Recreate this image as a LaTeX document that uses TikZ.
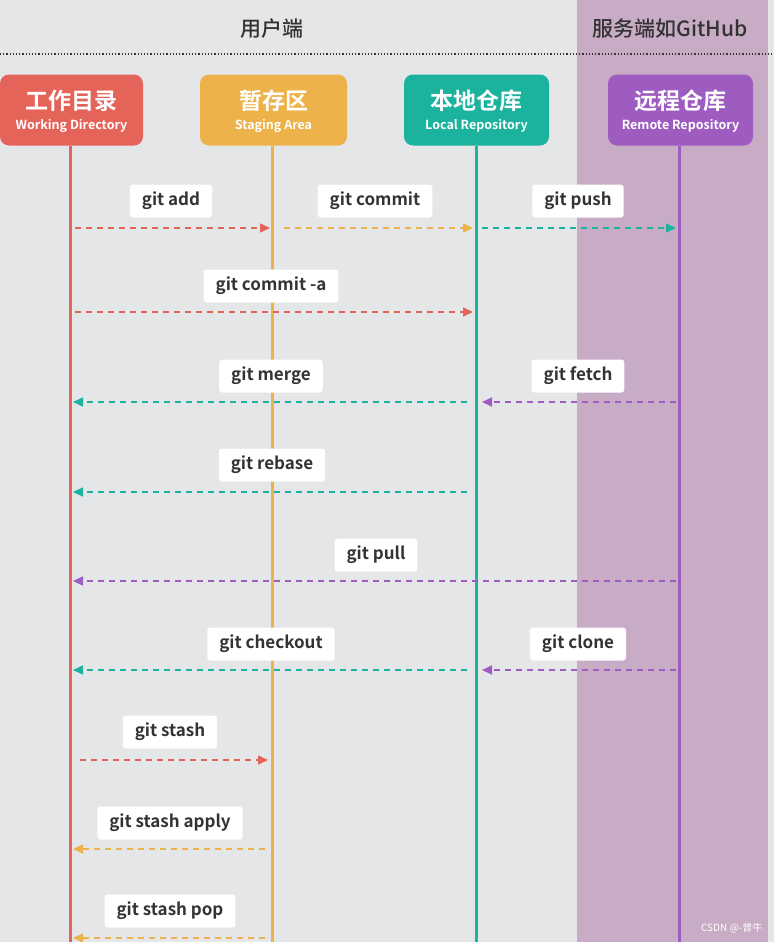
\documentclass[tikz,border=0pt]{standalone}
\usepackage{fontspec}
\setmainfont{Noto Sans CJK SC}[BoldFont={* Bold}]
\newfontfamily\medfont{Noto Sans CJK SC Medium}
\usetikzlibrary{arrows.meta}
\definecolor{bgc}{HTML}{E4E6E8}
\definecolor{panel}{HTML}{C8ABC5}
\definecolor{cred}{HTML}{E5645A}
\definecolor{corg}{HTML}{EDB24A}
\definecolor{cteal}{HTML}{1BB39E}
\definecolor{cpur}{HTML}{9E5CC0}
\definecolor{ctext}{HTML}{333333}
\tikzset{
  hdr/.style={rounded corners=9pt, minimum width=145pt, minimum height=71pt, inner sep=0pt},
  htitle/.style={text=white, font=\fontsize{23}{26}\selectfont\bfseries, inner sep=0pt},
  hsub/.style={text=white, font=\fontsize{12.5}{14}\selectfont\bfseries, inner sep=0pt},
  life/.style={line width=3pt},
  cmd/.style={fill=white, rounded corners=3pt, text=ctext, font=\fontsize{17}{20}\selectfont\bfseries, inner xsep=12pt, minimum height=33pt},
  flow/.style={line width=1.6pt, dash pattern=on 6pt off 5pt, -{Triangle[length=10pt,width=9pt]}},
}
\begin{document}
\begin{tikzpicture}[x=1pt,y=-1pt]
\useasboundingbox (0,0) rectangle (774,942);
\fill[bgc] (0,0) rectangle (774,942);
\fill[panel] (577,0) rectangle (768,942);
\draw[ctext, line width=1.2pt, dotted] (0,54) -- (774,54);
\node[font=\medfont\fontsize{21}{24}\selectfont, text=ctext] (t1) at (272,29) {用户端};
\node[font=\medfont\fontsize{21}{24}\selectfont, text=ctext] (t2) at (670,29) {服务端如GitHub};

\node[hdr, fill=cred, minimum width=143pt] (wd) at (71.5,110) {};
\node[hdr, fill=corg, minimum width=147pt] (sa) at (273.5,110) {};
\node[hdr, fill=cteal] (lr) at (476.5,110) {};
\node[hdr, fill=cpur] (rr) at (680.5,110) {};
\node[htitle] (wdT) at ([yshift=9pt]wd.center) {工作目录};
\node[hsub] (wdS) at ([yshift=-16pt]wd.center) {Working Directory};
\node[htitle] (saT) at ([yshift=9pt]sa.center) {暂存区};
\node[hsub] (saS) at ([yshift=-16pt]sa.center) {Staging Area};
\node[htitle] (lrT) at ([yshift=9pt]lr.center) {本地仓库};
\node[hsub] (lrS) at ([yshift=-16pt]lr.center) {Local Repository};
\node[htitle] (rrT) at ([yshift=9pt]rr.center) {远程仓库};
\node[hsub] (rrS) at ([yshift=-16pt]rr.center) {Remote Repository};

\coordinate (wdE) at (70,942);
\coordinate (saE) at (272,942);
\coordinate (lrE) at (476,942);
\coordinate (rrE) at (679,942);
\draw[life, cred] (wd.south -| wdE) -- (wdE);
\draw[life, corg] (sa.south -| saE) -- (saE);
\draw[life, cteal] (lr.south -| lrE) -- (lrE);
\draw[life, cpur] (rr.south -| rrE) -- (rrE);

% arrow end points
\coordinate (a1s) at (75,228);  \coordinate (a1e) at (270,228);
\coordinate (a2s) at (284,228); \coordinate (a2e) at (473,228);
\coordinate (a3s) at (482,228); \coordinate (a3e) at (676,228);
\coordinate (a4s) at (75,312);  \coordinate (a4e) at (473,312);
\coordinate (a5s) at (467,402); \coordinate (a5e) at (73,402);
\coordinate (a6s) at (676,402); \coordinate (a6e) at (482,402);
\coordinate (a7s) at (467,492); \coordinate (a7e) at (73,492);
\coordinate (a8s) at (676,581); \coordinate (a8e) at (73,581);
\coordinate (a9s) at (467,670); \coordinate (a9e) at (73,670);
\coordinate (a10s) at (676,670); \coordinate (a10e) at (482,670);
\coordinate (a11s) at (80,760); \coordinate (a11e) at (268,760);
\coordinate (a12s) at (265,849); \coordinate (a12e) at (73,849);
\coordinate (a13s) at (265,938); \coordinate (a13e) at (73,938);

\draw[flow, cred] (a1s) -- (a1e);
\draw[flow, corg] (a2s) -- (a2e);
\draw[flow, cteal] (a3s) -- (a3e);
\draw[flow, cred] (a4s) -- (a4e);
\draw[flow, cteal] (a5s) -- (a5e);
\draw[flow, cpur] (a6s) -- (a6e);
\draw[flow, cteal] (a7s) -- (a7e);
\draw[flow, cpur] (a8s) -- (a8e);
\draw[flow, cteal] (a9s) -- (a9e);
\draw[flow, cpur] (a10s) -- (a10e);
\draw[flow, cred] (a11s) -- (a11e);
\draw[flow, corg] (a12s) -- (a12e);
\draw[flow, corg] (a13s) -- (a13e);

\node[cmd] (l1) at (171,201) {git add};
\node[cmd] (l2) at (375,201) {git commit};
\node[cmd] (l3) at (578,201) {git push};
\node[cmd] (l4) at (271,286) {git commit -a};
\node[cmd] (l5) at (271,376) {git merge};
\node[cmd] (l6) at (578,376) {git fetch};
\node[cmd] (l7) at (272,465) {git rebase};
\node[cmd] (l8) at (376,555) {git pull};
\node[cmd] (l9) at (271,644) {git checkout};
\node[cmd] (l10) at (578,644) {git clone};
\node[cmd] (l11) at (170,732) {git stash};
\node[cmd] (l12) at (170,823) {git stash apply};
\node[cmd] (l13) at (170,911) {git stash pop};

\node[text=white, font=\fontsize{10}{12}\selectfont, anchor=east] (wm) at (766,928) {CSDN @-曾牛};
\end{tikzpicture}
\end{document}
